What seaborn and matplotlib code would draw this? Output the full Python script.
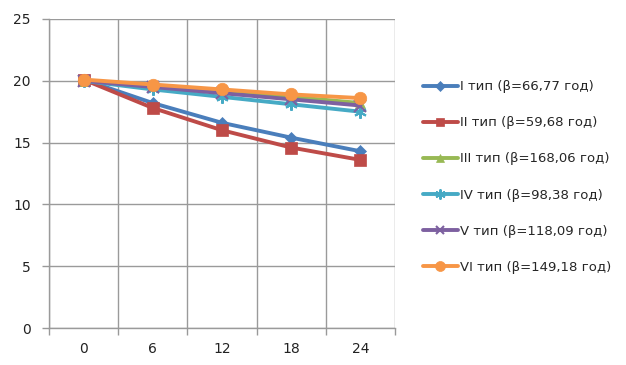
import matplotlib
matplotlib.use("Agg")
import matplotlib.pyplot as plt
import seaborn as sns
import pandas as pd
from matplotlib.ticker import FixedLocator

months = ["0", "6", "12", "18", "24"]
series_names = [
    "I тип (β=66,77 год)",
    "II тип (β=59,68 год)",
    "III тип (β=168,06 год)",
    "IV тип (β=98,38 год)",
    "V тип (β=118,09 год)",
    "VI тип (β=149,18 год)",
]
s1 = [20.1, 18.2, 16.6, 15.4, 14.3]
s2 = [20.1, 17.8, 16.0, 14.6, 13.6]
s3 = [20.0, 19.6, 19.1, 18.7, 18.2]
s4 = [20.0, 19.3, 18.7, 18.1, 17.5]
s5 = [20.0, 19.5, 19.0, 18.5, 18.0]
s6 = [20.1, 19.7, 19.3, 18.9, 18.6]
all_values = [s1, s2, s3, s4, s5, s6]

colors = ["#4A7EBB", "#BE4B48", "#98B954", "#46AAC5", "#7D60A0", "#F79646"]
markers = ["D", "s", "^", (6, 2, 0), "x", "o"]
msizes = [6.5, 8, 7.5, 9, 8, 9]

sns.set_theme(style="white")
plt.rcParams["font.family"] = ["DejaVu Sans"]

rows = []
for name, vals in zip(series_names, all_values):
    for i, (m, v) in enumerate(zip(months, vals)):
        rows.append({"pos": i, "month": m, "value": v, "series": name})
df = pd.DataFrame(rows)

fig = plt.figure(figsize=(6.26, 3.65), dpi=100)
ax = fig.add_axes([49 / 626, 1 - 328 / 365, (395 - 49) / 626, (328 - 19) / 365])

for name, c, mk, ms in zip(series_names, colors, markers, msizes):
    sub = df[df["series"] == name]
    sns.lineplot(data=sub, x="pos", y="value", ax=ax, color=c, linewidth=2.8,
                 marker=mk, markersize=ms, markeredgecolor=c,
                 markeredgewidth=1.5 if mk in ["x", (6, 2, 0)] else 0.5,
                 label=name, legend=False)

ax.set_xlim(-0.5, 4.5)
ax.set_ylim(0, 25)
ax.set_xticks(range(len(months)))
ax.set_xticklabels(months)
ax.xaxis.set_minor_locator(FixedLocator([-0.5, 0.5, 1.5, 2.5, 3.5, 4.5]))
ax.set_yticks([0, 5, 10, 15, 20, 25])
ax.tick_params(axis="x", which="major", length=0, pad=10, labelsize=10, colors="#222222")
ax.tick_params(axis="x", which="minor", length=5, width=1, color="#999999", direction="out", bottom=True)
ax.tick_params(axis="y", which="major", length=5, width=1, color="#999999", direction="out", left=True, labelsize=10, colors="#222222", pad=8)
ax.grid(False)
ax.grid(True, axis="y", which="major", color="#9a9a9a", linewidth=1)
ax.grid(True, axis="x", which="minor", color="#9a9a9a", linewidth=1)
for sp in ["top", "right"]:
    ax.spines[sp].set_visible(False)
for sp in ["left", "bottom"]:
    ax.spines[sp].set_color("#9a9a9a")
    ax.spines[sp].set_linewidth(1)
ax.set_xlabel("")
ax.set_ylabel("")

handles, labels = ax.get_legend_handles_labels()
fig.legend(handles, labels, loc="upper left", bbox_to_anchor=(418 / 626, 1 - 75 / 365),
           frameon=False, fontsize=9.5, handlelength=2.6, handletextpad=0.2,
           labelspacing=1.75, borderaxespad=0, markerscale=0.8)

fig.savefig("out.png", dpi=100)
